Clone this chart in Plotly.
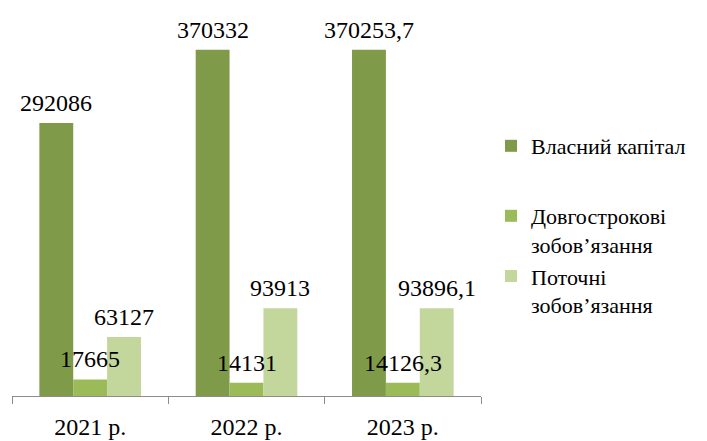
import plotly.graph_objects as go

# Categories and series values
years = ["2021 р.", "2022 р.", "2023 р."]
equity = [292086, 370332, 370253.7]
long_term = [17665, 14131, 14126.3]
current = [63127, 93913, 93896.1]

series_names = ["Власний капітал", "Довгострокові<br>зобов\u02bcязання", "Поточні<br>зобов\u02bcязання"]
colors = ["#7F9A48", "#9BBB59", "#C3D69B"]

SERIF = "'Liberation Serif', 'Times New Roman', Tinos, 'DejaVu Serif', serif"
BARGAP = 0.35


def fmt(v):
    # Comma as decimal separator, no trailing zero for whole numbers
    if float(v).is_integer():
        return str(int(v))
    return str(v).replace(".", ",")


fig = go.Figure()
all_series = [equity, long_term, current]
for i, (name, vals, col) in enumerate(zip(series_names, all_series, colors)):
    fig.add_trace(go.Bar(
        x=years, y=vals, name=name,
        marker=dict(color=col, line=dict(width=0)),
        legend="legend" if i == 0 else "legend2",
    ))

# Value labels drawn above all bars so none is hidden by a neighbouring bar
bar_w = (1 - BARGAP) / len(all_series)
for i, vals in enumerate(all_series):
    offset = (i - (len(all_series) - 1) / 2) * bar_w
    for j, v in enumerate(vals):
        fig.add_annotation(
            x=j + offset, y=v, xref="x", yref="y",
            text=fmt(v), showarrow=False,
            xanchor="center", yanchor="bottom", yshift=5,
            font=dict(family=SERIF, size=24, color="#000000"),
        )

legend_style = dict(
    font=dict(family=SERIF, size=22, color="#000000"),
    bgcolor="rgba(0,0,0,0)",
    xref="container", yref="container",
    xanchor="left", yanchor="top",
    valign="top",
    tracegroupgap=0,
)

fig.update_layout(
    width=707, height=441,
    margin=dict(l=12, r=226, t=22, b=45),
    paper_bgcolor="#FFFFFF",
    plot_bgcolor="#FFFFFF",
    font=dict(family=SERIF),
    barmode="group",
    bargap=BARGAP,
    bargroupgap=0,
    showlegend=True,
    legend=dict(x=491 / 707, y=1 - 125 / 441, **legend_style),
    legend2=dict(x=491 / 707, y=1 - 195 / 441, tracegroupgap=0,
                 **{k: v for k, v in legend_style.items() if k != "tracegroupgap"}),
    xaxis=dict(
        showline=True, linecolor="#8C8C8C", linewidth=1,
        ticks="outside", tickson="boundaries", ticklen=7, tickcolor="#8C8C8C",
        tickfont=dict(family=SERIF, size=24, color="#000000"),
        ticklabelstandoff=9,
        automargin=False,
        showgrid=False, zeroline=False,
    ),
    yaxis=dict(
        range=[0, 400000], visible=False, showgrid=False, zeroline=False,
    ),
)

fig.write_html("out.html")
